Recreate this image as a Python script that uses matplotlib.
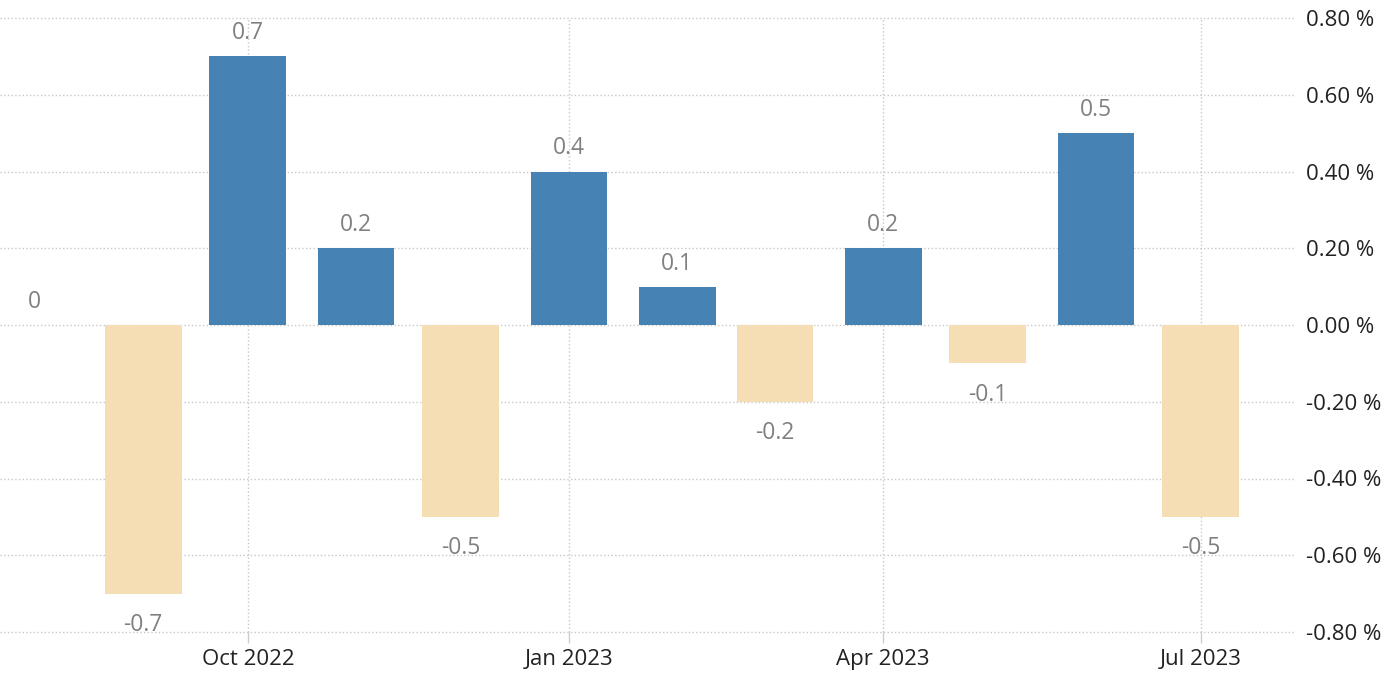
import matplotlib.pyplot as plt
import matplotlib.dates as mdates
import pandas as pd

plt.rcParams['font.family'] = ['Open Sans', 'DejaVu Sans']

months = pd.date_range('2022-08-01', '2023-07-01', freq='MS')
values = [0, -0.7, 0.7, 0.2, -0.5, 0.4, 0.1, -0.2, 0.2, -0.1, 0.5, -0.5]
yticks = [-0.8, -0.6, -0.4, -0.2, 0.0, 0.2, 0.4, 0.6, 0.8]
xticks = pd.to_datetime(['2022-10-01', '2023-01-01', '2023-04-01', '2023-07-01'])

fig = plt.figure(figsize=(13.93, 6.88), dpi=100)
ax = fig.add_axes([0, 1 - 632 / 688, 1295 / 1393, 614 / 688])

colors = ['#4682b4' if v >= 0 else '#f5deb3' for v in values]
ax.bar(months, values, width=22, color=colors, zorder=3)

for m, v in zip(months, values):
    if v >= 0:
        ax.annotate(f'{v:g}', (m, v), xytext=(0, 8), textcoords='offset points',
                    ha='center', va='bottom', fontsize=16.5, color='#808080')
    else:
        ax.annotate(f'{v:g}', (m, v), xytext=(0, -14), textcoords='offset points',
                    ha='center', va='top', fontsize=16.5, color='#808080')

ax.set_ylim(-0.8, 0.8)
ax.set_xlim(pd.Timestamp('2022-07-22'), pd.Timestamp('2023-07-28'))
ax.set_yticks(yticks)
ax.set_yticklabels([f'{t:.2f} %' for t in yticks])
ax.set_xticks(xticks)
ax.xaxis.set_major_formatter(mdates.DateFormatter('%b %Y'))

ax.yaxis.tick_right()
ax.tick_params(axis='y', length=0, pad=8, labelsize=16, labelcolor='#222222')
ax.tick_params(axis='x', length=8, width=1, color='#cccccc', pad=4,
               labelsize=16, labelcolor='#222222')

ax.grid(True, linestyle=':', color='#c8c8c8', linewidth=1, zorder=0)
for gl in ax.get_ygridlines() + ax.get_xgridlines():
    gl.set_clip_on(False)
for s in ax.spines.values():
    s.set_visible(False)

fig.savefig('out.png', dpi=100)
